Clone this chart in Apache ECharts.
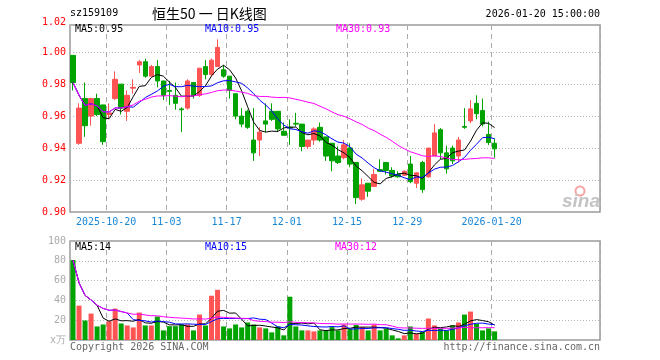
<!DOCTYPE html>
<html><head><meta charset="utf-8">
<script src="https://cdn.jsdelivr.net/npm/echarts@6/dist/echarts.min.js"></script>
<style>html,body{margin:0;padding:0;background:#fff}#c{width:660px;height:360px}</style>
</head><body><div id="c"></div>
<script>
// ---- data ----
const dates = [
 '2025-10-10','2025-10-13','2025-10-14','2025-10-15','2025-10-16','2025-10-17','2025-10-20','2025-10-21','2025-10-22','2025-10-23',
 '2025-10-24','2025-10-27','2025-10-28','2025-10-29','2025-10-30','2025-10-31','2025-11-03','2025-11-04','2025-11-05','2025-11-06',
 '2025-11-07','2025-11-10','2025-11-11','2025-11-12','2025-11-13','2025-11-14','2025-11-17','2025-11-18','2025-11-19','2025-11-20',
 '2025-11-21','2025-11-24','2025-11-25','2025-11-26','2025-11-27','2025-11-28','2025-12-01','2025-12-02','2025-12-03','2025-12-04',
 '2025-12-05','2025-12-08','2025-12-09','2025-12-10','2025-12-11','2025-12-12','2025-12-15','2025-12-16','2025-12-17','2025-12-18',
 '2025-12-19','2025-12-22','2025-12-23','2025-12-24','2025-12-25','2025-12-26','2025-12-29','2025-12-30','2025-12-31','2026-01-05',
 '2026-01-06','2026-01-07','2026-01-08','2026-01-09','2026-01-12','2026-01-13','2026-01-14','2026-01-15','2026-01-16','2026-01-19',
 '2026-01-20'];
const openPrices = [
 0.998,0.943,0.971,0.960,0.971,0.967,0.961,0.971,0.980,0.963,
 0.9775,0.992,0.994,0.985,0.991,0.982,0.976,0.973,0.9645,0.965,
 0.981,0.973,0.991,0.986,0.991,0.989,0.985,0.974,0.960,0.963,
 0.945,0.945,0.957,0.963,0.963,0.9505,0.953,0.9555,0.955,0.941,
 0.945,0.953,0.947,0.943,0.935,0.934,0.940,0.931,0.908,0.918,
 0.916,0.9265,0.931,0.926,0.9235,0.923,0.930,0.918,0.931,0.922,
 0.935,0.9515,0.937,0.940,0.935,0.9535,0.957,0.968,0.9635,0.9485,
 0.943];
const closePrices = [
 0.981,0.965,0.954,0.971,0.961,0.944,0.962,0.983,0.965,0.973,
 0.978,0.994,0.985,0.991,0.982,0.973,0.9755,0.968,0.964,0.982,
 0.973,0.990,0.986,0.995,1.003,0.985,0.976,0.960,0.955,0.953,
 0.937,0.950,0.955,0.958,0.952,0.948,0.9525,0.955,0.941,0.945,
 0.952,0.945,0.935,0.932,0.931,0.942,0.930,0.909,0.917,0.913,
 0.9235,0.9255,0.926,0.9225,0.922,0.9255,0.919,0.9245,0.914,0.940,
 0.9495,0.937,0.927,0.932,0.945,0.953,0.9645,0.9615,0.955,0.9435,
 0.9395];
const lowPrices = [
 0.976,0.942,0.947,0.954,0.960,0.942,0.958,0.970,0.961,0.957,
 0.974,0.987,0.984,0.985,0.978,0.970,0.967,0.964,0.950,0.964,
 0.971,0.972,0.983,0.985,0.991,0.984,0.971,0.958,0.953,0.952,
 0.932,0.935,0.950,0.957,0.950,0.948,0.942,0.9535,0.938,0.9395,
 0.942,0.944,0.932,0.9255,0.930,0.933,0.928,0.905,0.907,0.9095,
 0.916,0.925,0.9235,0.9215,0.9215,0.9225,0.918,0.915,0.912,0.9215,
 0.935,0.933,0.924,0.930,0.931,0.952,0.9555,0.958,0.9535,0.942,
 0.934];
const highPrices = [
 0.998,0.968,0.981,0.971,0.974,0.967,0.968,0.988,0.980,0.976,
 0.983,0.995,0.996,0.992,0.995,0.982,0.982,0.981,0.9655,0.983,
 0.981,0.990,0.995,0.996,1.008,0.992,0.985,0.974,0.965,0.964,
 0.965,0.953,0.968,0.968,0.963,0.956,0.958,0.962,0.955,0.945,
 0.953,0.956,0.947,0.943,0.941,0.945,0.943,0.931,0.921,0.918,
 0.927,0.933,0.931,0.928,0.9255,0.926,0.935,0.925,0.932,0.940,
 0.955,0.9525,0.9415,0.9415,0.947,0.965,0.970,0.973,0.971,0.9565,
 0.946];
const volumes = [
 80.7,34.7,19.7,26.7,13.7,15.7,19.0,31.7,16.7,14.7,
 12.7,27.7,14.7,14.7,23.7,9.7,14.0,14.0,15.7,15.7,
 9.7,25.7,14.7,44.7,50.7,13.7,11.7,15.7,12.7,17.7,
 15.7,12.7,11.7,7.7,13.7,4.7,43.7,13.7,9.7,9.7,
 8.7,9.7,9.7,13.0,9.7,15.7,11.3,15.3,13.0,9.7,
 15.7,9.7,11.3,4.7,1.7,4.7,13.7,6.3,8.0,21.7,
 14.7,11.7,9.7,14.7,17.7,25.7,28.7,16.3,9.7,11.7,
 8.7];
const tickDates  = ['2025-10-20','2025-11-03','2025-11-17','2025-12-01','2025-12-15','2025-12-29','2026-01-20'];
const tickLabels = ['2025-10-20','11-03','11-17','12-01','12-15','12-29','2026-01-20'];
const priceMaText  = ['MA5:0.95','MA10:0.95','MA30:0.93'];
const volumeMaText = ['MA5:14','MA10:15','MA30:12'];
const headerCode = 'sz159109';
const headerTitle = '恒生50 一 日K线图';
const headerTime = '2026-01-20 15:00:00';

// ---- build ----
const SLOTS = 88;
const cats = dates.slice();
for (let i = dates.length; i < SLOTS; i++) cats.push('pad' + i);
const tickIdx = tickDates.map(d => dates.indexOf(d));
const labelOf = {}; tickDates.forEach((d, k) => labelOf[d] = tickLabels[k]);

function movingAverage(values, n) {
  return values.map((_, i) => {
    const s = Math.max(0, i - n + 1);
    let sum = 0;
    for (let k = s; k <= i; k++) sum += values[k];
    return +(sum / (i - s + 1)).toFixed(4);
  });
}
const RED = '#ff5454', GREEN = '#00a300';
const kData = dates.map((d, i) => [openPrices[i], closePrices[i], lowPrices[i], highPrices[i]]);
const volData = volumes.map((v, i) => ({
  value: v, itemStyle: { color: closePrices[i] >= openPrices[i] ? RED : GREEN }
}));
const MONO = '"DejaVu Sans Mono", "Liberation Mono", monospace';
const maColors = ['#000000', '#0000ff', '#ff00ff'];
const maN = [5, 10, 30];

function xAxisFor(gi, showLabels) {
  return {
    type: 'category', gridIndex: gi, data: cats, boundaryGap: true,
    axisLine: { show: false }, axisTick: { show: false },
    axisLabel: {
      show: showLabels,
      interval: (i) => tickIdx.indexOf(i) >= 0,
      formatter: (v) => labelOf[v] || '',
      color: '#1a87d6', fontFamily: MONO, fontSize: 10, margin: 5,
      padding: [0, 6, 0, 0]
    },
    splitLine: {
      show: true, interval: (i) => tickIdx.indexOf(i) >= 0,
      lineStyle: { color: '#aaaaaa', type: [5, 4], width: 1 }
    }
  };
}
const series = [
  { type: 'candlestick', xAxisIndex: 0, yAxisIndex: 0, data: kData, barWidth: 5,
    itemStyle: { color: RED, color0: GREEN, borderColor: RED, borderColor0: GREEN, borderWidth: 1 } }
];
for (let k = 0; k < 3; k++) {
  series.push({ type: 'line', xAxisIndex: 0, yAxisIndex: 0, data: movingAverage(closePrices, maN[k]),
    symbol: 'none', silent: true, lineStyle: { color: maColors[k], width: 1 }, z: 3 + k });
}
series.push({ type: 'bar', xAxisIndex: 1, yAxisIndex: 1, data: volData, barWidth: 5 });
for (let k = 0; k < 3; k++) {
  series.push({ type: 'line', xAxisIndex: 1, yAxisIndex: 1, data: movingAverage(volumes, maN[k]),
    symbol: 'none', silent: true, lineStyle: { color: maColors[k], width: 1 }, z: 3 + k });
}
function txt(x, y, text, fill, font, align) {
  return { type: 'text', x: x, y: y, silent: true, z: 100,
    style: { text: text, fill: fill, font: font, align: align || 'left', verticalAlign: 'middle' } };
}
const F10 = '10px ' + MONO;
const graphic = [
  txt(70, 13, headerCode, '#000', F10),
  txt(152, 14, headerTitle, '#000', '14px "Noto Sans CJK SC"'),
  txt(600, 14, headerTime, '#000', F10, 'right'),
  txt(75, 29, priceMaText[0], maColors[0], F10),
  txt(205, 29, priceMaText[1], maColors[1], F10),
  txt(336, 29, priceMaText[2], maColors[2], F10),
  txt(75, 247, volumeMaText[0], maColors[0], F10),
  txt(205, 247, volumeMaText[1], maColors[1], F10),
  txt(335, 247, volumeMaText[2], maColors[2], F10),
  txt(70, 347, 'Copyright 2026 SINA.COM', '#666', F10),
  txt(600, 347, 'http://finance.sina.com.cn', '#666', F10, 'right'),
  { type: 'circle', shape: { cx: 580, cy: 191, r: 4.5 }, silent: true, z: 1,
    style: { fill: 'none', stroke: '#f6a5a5', lineWidth: 2 } },
  txt(581, 202, 'sina', '#c4c4c4', 'italic bold 19px "Liberation Sans"', 'center')
];

const chart = echarts.init(document.getElementById('c'), null, { renderer: 'canvas' });
chart.setOption({
  animation: false,
  backgroundColor: '#fff',
  grid: [
    { left: 70, top: 25, width: 530, height: 187, show: true, borderColor: '#9a9a9a', borderWidth: 1.5, backgroundColor: 'transparent' },
    { left: 70, top: 241, width: 530, height: 99, show: true, borderColor: '#9a9a9a', borderWidth: 1.5, backgroundColor: 'transparent' }
  ],
  xAxis: [xAxisFor(0, true), xAxisFor(1, false)],
  yAxis: [
    { type: 'value', gridIndex: 0, min: 0.90, max: 1.017, interval: 0.02, scale: true,
      axisLine: { show: false }, axisTick: { show: false },
      axisLabel: { color: '#ff0000', fontFamily: MONO, fontSize: 10, margin: 4,
        formatter: (v) => v > 1.01 ? '{t|' + v.toFixed(2) + '}' : v.toFixed(2),
        rich: { t: { color: '#ff0000', fontFamily: MONO, fontSize: 10, padding: [0, 0, 6, 0] } } },
      splitLine: { lineStyle: { color: '#b5b5b5', type: [1, 2] } } },
    { type: 'value', gridIndex: 1, min: 0, max: 100, interval: 20,
      axisLine: { show: false }, axisTick: { show: false },
      axisLabel: { color: '#aaaaaa', fontFamily: MONO, fontSize: 10, margin: 4,
        formatter: (v) => v === 0 ? 'x万' : String(v) },
      splitLine: { lineStyle: { color: '#b5b5b5', type: [1, 2] } } }
  ],
  series: series,
  graphic: graphic
});
</script></body></html>
